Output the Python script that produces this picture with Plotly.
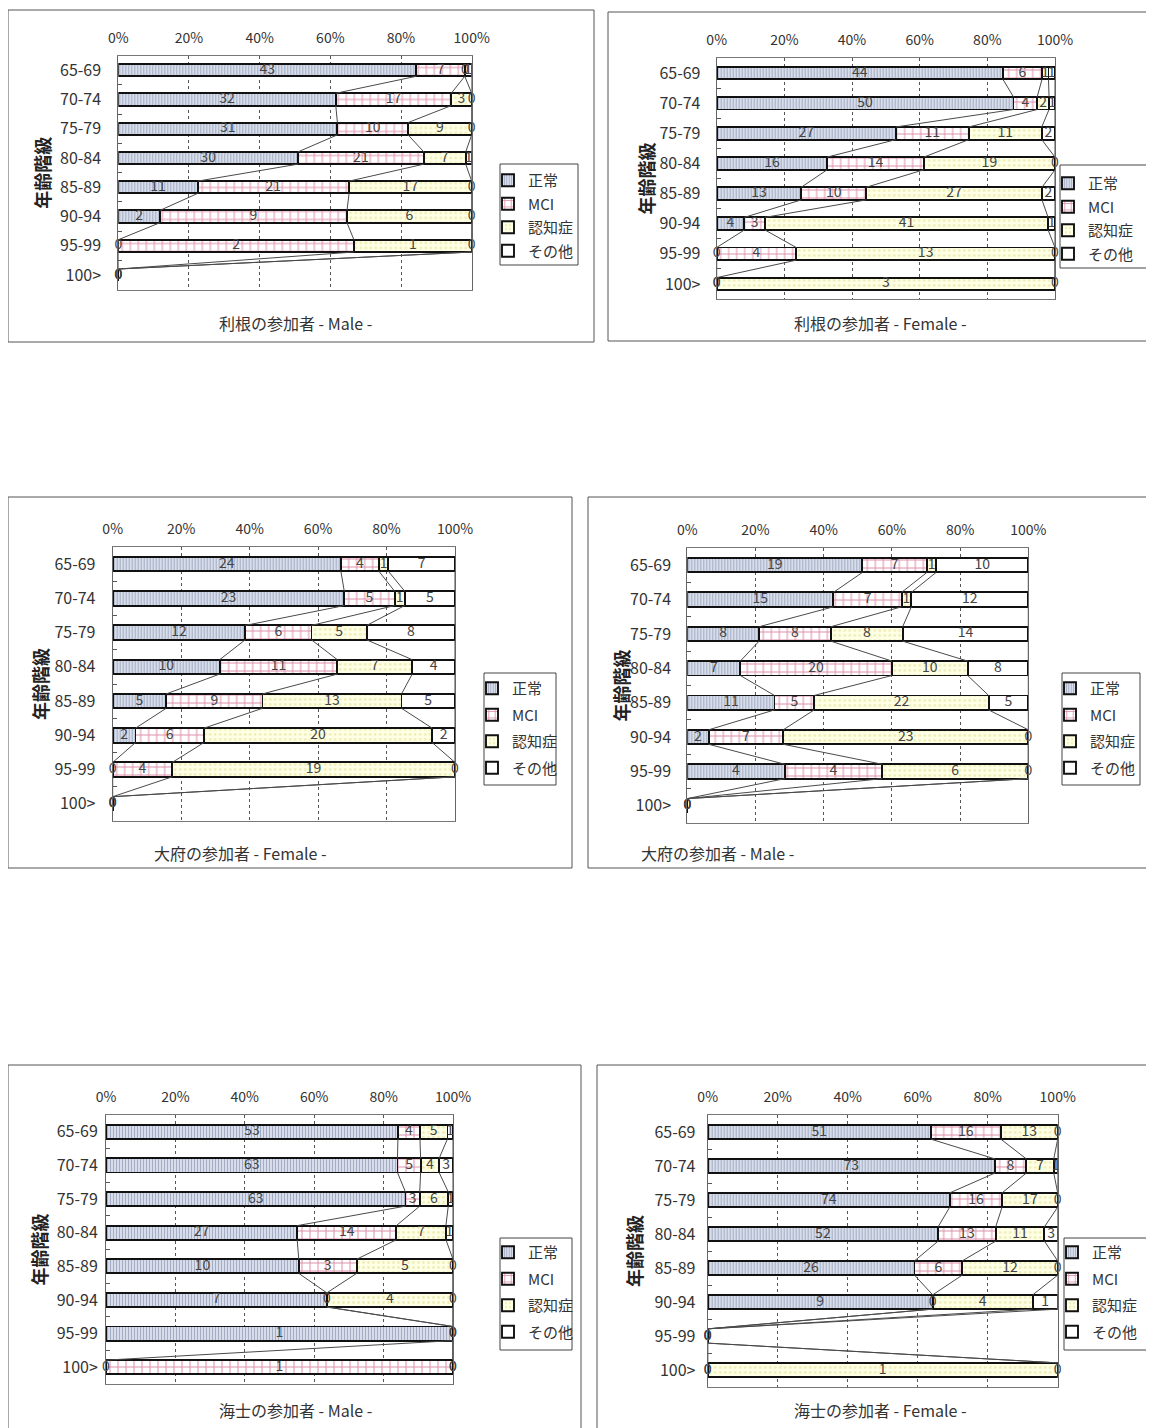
import numpy as np
import plotly.graph_objects as go

# ---------------- data ----------------
categories = ["65-69", "70-74", "75-79", "80-84", "85-89", "90-94", "95-99", "100>"]
series_names = ["正常", "MCI", "認知症", "その他"]
x_tick_values = [0, 0.2, 0.4, 0.6, 0.8, 1.0]
x_tick_labels = ["0%", "20%", "40%", "60%", "80%", "100%"]

# 利根の参加者 - Male -
tone_male_normal = [43, 32, 31, 30, 11, 2, 0, 0]
tone_male_mci = [7, 17, 10, 21, 21, 9, 2, 0]
tone_male_dementia = [0, 3, 9, 7, 17, 6, 1, 0]
tone_male_other = [1, 0, 0, 1, 0, 0, 0, 0]

# 利根の参加者 - Female -
tone_female_normal = [44, 50, 27, 16, 13, 4, 0, 0]
tone_female_mci = [6, 4, 11, 14, 10, 3, 4, 0]
tone_female_dementia = [1, 2, 11, 19, 27, 41, 13, 3]
tone_female_other = [1, 1, 2, 0, 2, 1, 0, 0]

# 大府の参加者 - Female -
obu_female_normal = [24, 23, 12, 10, 5, 2, 0, 0]
obu_female_mci = [4, 5, 6, 11, 9, 6, 4, 0]
obu_female_dementia = [1, 1, 5, 7, 13, 20, 19, 0]
obu_female_other = [7, 5, 8, 4, 5, 2, 0, 0]

# 大府の参加者 - Male -
obu_male_normal = [19, 15, 8, 7, 11, 2, 4, 0]
obu_male_mci = [7, 7, 8, 20, 5, 7, 4, 0]
obu_male_dementia = [1, 1, 8, 10, 22, 23, 6, 0]
obu_male_other = [10, 12, 14, 8, 5, 0, 0, 0]

# 海士の参加者 - Male -
ama_male_normal = [53, 63, 63, 27, 10, 7, 1, 0]
ama_male_mci = [4, 5, 3, 14, 3, 0, 0, 1]
ama_male_dementia = [5, 4, 6, 7, 5, 4, 0, 0]
ama_male_other = [1, 3, 1, 1, 0, 0, 0, 0]

# 海士の参加者 - Female -
ama_female_normal = [51, 73, 74, 52, 26, 9, 0, 0]
ama_female_mci = [16, 8, 16, 13, 6, 0, 0, 0]
ama_female_dementia = [13, 7, 17, 11, 12, 4, 0, 1]
ama_female_other = [0, 1, 0, 3, 0, 1, 0, 0]

# ---------------- layout geometry (page pixels) ----------------
PAGE_OFF = 8            # default body margin of the html page
W, H = 1154 - PAGE_OFF, 1428 - PAGE_OFF
FONT = "Noto Sans CJK JP"

panels = [
    dict(counts=[tone_male_normal, tone_male_mci, tone_male_dementia, tone_male_other],
         title="利根の参加者 - Male -", box=(8, 10, 594, 342), plot=(118.3, 55.5, 471.7, 289.8),
         legend_box=(500, 164, 578, 265), legend_first=180, gap=1, label_gap=13,
         title_xy=(295, 323), ytitle_x=42),
    dict(counts=[tone_female_normal, tone_female_mci, tone_female_dementia, tone_female_other],
         title="利根の参加者 - Female -", box=(608, 12, 1170, 341), plot=(716.7, 58, 1055, 299),
         legend_box=(1060, 165, 1150, 268), legend_first=183, gap=1, label_gap=12,
         title_xy=(880, 323), ytitle_x=645),
    dict(counts=[obu_female_normal, obu_female_mci, obu_female_dementia, obu_female_other],
         title="大府の参加者 - Female -", box=(8, 497, 572, 868), plot=(112.7, 547, 455, 821),
         legend_box=(484, 673, 556, 785), legend_first=688, gap=4, label_gap=13,
         title_xy=(240, 853), ytitle_x=40),
    dict(counts=[obu_male_normal, obu_male_mci, obu_male_dementia, obu_male_other],
         title="大府の参加者 - Male -", box=(588, 497, 1170, 868), plot=(687.3, 548, 1028.3, 823),
         legend_box=(1062, 673, 1140, 785), legend_first=688, gap=4, label_gap=12,
         title_xy=(717, 853), ytitle_x=620),
    dict(counts=[ama_male_normal, ama_male_mci, ama_male_dementia, ama_male_other],
         title="海士の参加者 - Male -", box=(8, 1065, 581, 1440), plot=(106, 1115, 453, 1384),
         legend_box=(500, 1238, 572, 1350), legend_first=1252, gap=4, label_gap=4,
         title_xy=(295, 1410), ytitle_x=38),
    dict(counts=[ama_female_normal, ama_female_mci, ama_female_dementia, ama_female_other],
         title="海士の参加者 - Female -", box=(597, 1065, 1170, 1440), plot=(707.7, 1115, 1057.7, 1387),
         legend_box=(1064, 1238, 1150, 1350), legend_first=1252, gap=4, label_gap=8,
         title_xy=(880, 1410), ytitle_x=634),
]

styles = [
    dict(bg="#dfe4f0", fg="#6a7596", shape="|", size=3, solidity=0.42),
    dict(bg="#ffffff", fg="#bf2356", shape="+", size=8, solidity=0.24),
    dict(bg="#ffffe6", fg="#dede8c", shape=".", size=5, solidity=0.25),
    dict(bg="#ffffff", fg="#ffffff", shape="", size=5, solidity=0.2),
]

BAR_W = 0.42


def fx(v):
    return (v - PAGE_OFF) / W


def fy(v):
    return 1 - (v - PAGE_OFF) / H


fig = go.Figure()
shapes = []
annotations = []
layout_extra = {}

for p, pan in enumerate(panels, start=1):
    xa = "x" if p == 1 else f"x{p}"
    ya = "y" if p == 1 else f"y{p}"
    leg = "legend" if p == 1 else f"legend{p}"
    counts = np.array(pan["counts"], dtype=float)  # (4 series, 8 age classes)
    totals = counts.sum(axis=0)
    pct = np.divide(counts, totals, out=np.zeros_like(counts), where=totals > 0)
    cum = np.cumsum(pct, axis=0)
    rows = np.arange(len(categories))

    for k, name in enumerate(series_names):
        st = styles[k]
        pattern = dict(shape=st["shape"], fgcolor=st["fg"], bgcolor=st["bg"],
                       size=st["size"], solidity=st["solidity"])
        fig.add_trace(go.Bar(
            x=pct[k], y=rows, orientation="h", width=BAR_W, name=name,
            marker=dict(color=st["bg"], line=dict(color="#111", width=1.9), pattern=pattern),
            xaxis=xa, yaxis=ya, legend=leg, legendgroup=f"p{p}s{k}",
            hoverinfo="skip",
        ))

    # series lines connecting the ends of each segment between consecutive bars
    lx, ly = [], []
    for k in range(len(series_names)):
        for i in range(len(categories) - 1):
            lx += [cum[k][i], cum[k][i + 1], None]
            ly += [rows[i] + BAR_W / 2, rows[i + 1] - BAR_W / 2, None]
    fig.add_trace(go.Scatter(x=lx, y=ly, mode="lines", line=dict(color="#4a4a4a", width=1),
                             xaxis=xa, yaxis=ya, showlegend=False, hoverinfo="skip"))

    # data labels (count of each segment, centred on the segment)
    tx, ty, tt = [], [], []
    for k in range(len(series_names)):
        for i in range(len(categories)):
            tx.append(cum[k][i] - pct[k][i] / 2)
            ty.append(rows[i])
            tt.append(str(int(counts[k][i])))
    fig.add_trace(go.Scatter(x=tx, y=ty, text=tt, mode="text", textposition="middle center",
                             textfont=dict(family=FONT, size=14, color="#444"),
                             cliponaxis=False, xaxis=xa, yaxis=ya, showlegend=False,
                             hoverinfo="skip"))

    l, t, r, b = pan["plot"]
    xkey = "xaxis" if p == 1 else f"xaxis{p}"
    ykey = "yaxis" if p == 1 else f"yaxis{p}"
    layout_extra[xkey] = dict(
        domain=[fx(l), fx(r)], anchor=ya, side="top", range=[0, 1],
        tickmode="array", tickvals=x_tick_values, ticktext=x_tick_labels,
        ticks="", ticklabelstandoff=6, tickfont=dict(family=FONT, size=14, color="#333"),
        showgrid=True, gridcolor="#555", griddash="dot", gridwidth=1,
        showline=True, mirror=True, linecolor="#777", linewidth=1, zeroline=False,
        fixedrange=True,
    )
    layout_extra[ykey] = dict(
        domain=[fy(b), fy(t)], anchor=xa, range=[len(categories) - 0.5, -0.5],
        tickmode="array", tickvals=list(rows), ticktext=categories, ticks="",
        ticklabelstandoff=pan["label_gap"], tickfont=dict(family=FONT, size=16, color="#333"),
        minor=dict(tickmode="array", tickvals=[i + 0.5 for i in range(len(categories) - 1)],
                   ticks="inside", ticklen=4, tickcolor="#555", showgrid=False),
        showgrid=False, showline=True, mirror=True, linecolor="#666", linewidth=1,
        zeroline=False, fixedrange=True,
    )

    lb = pan["legend_box"]
    layout_extra[leg] = dict(
        x=fx(lb[0] - 12), y=fy(pan["legend_first"] - 16), xanchor="left", yanchor="top",
        bgcolor="rgba(0,0,0,0)", borderwidth=0, traceorder="grouped",
        tracegroupgap=pan["gap"], itemwidth=30,
        font=dict(family=FONT, size=15, color="#333"),
    )

    bx = pan["box"]
    shapes.append(dict(type="rect", xref="paper", yref="paper",
                       x0=fx(bx[0]), x1=fx(bx[2]), y0=fy(bx[3]), y1=fy(bx[1]),
                       line=dict(color="#555", width=1), layer="below"))
    shapes.append(dict(type="rect", xref="paper", yref="paper",
                       x0=fx(lb[0]), x1=fx(lb[2]), y0=fy(lb[3]), y1=fy(lb[1]),
                       line=dict(color="#444", width=1), layer="below"))
    annotations.append(dict(text=pan["title"], xref="paper", yref="paper",
                            x=fx(pan["title_xy"][0]), y=fy(pan["title_xy"][1]),
                            xanchor="center", yanchor="middle", showarrow=False,
                            font=dict(family=FONT, size=16, color="#333")))
    annotations.append(dict(text="<b>年齢階級</b>", xref="paper", yref="paper",
                            x=fx(pan["ytitle_x"]), y=fy((t + b) / 2), textangle=-90,
                            xanchor="center", yanchor="middle", showarrow=False,
                            font=dict(family=FONT, size=18, color="#222")))

fig.update_layout(
    width=W, height=H, margin=dict(l=0, r=0, t=0, b=0, autoexpand=False),
    paper_bgcolor="white", plot_bgcolor="white",
    barmode="stack", bargap=0.58,
    font=dict(family=FONT, color="#333"),
    shapes=shapes, annotations=annotations,
    **layout_extra,
)

fig.write_html("out.html")
